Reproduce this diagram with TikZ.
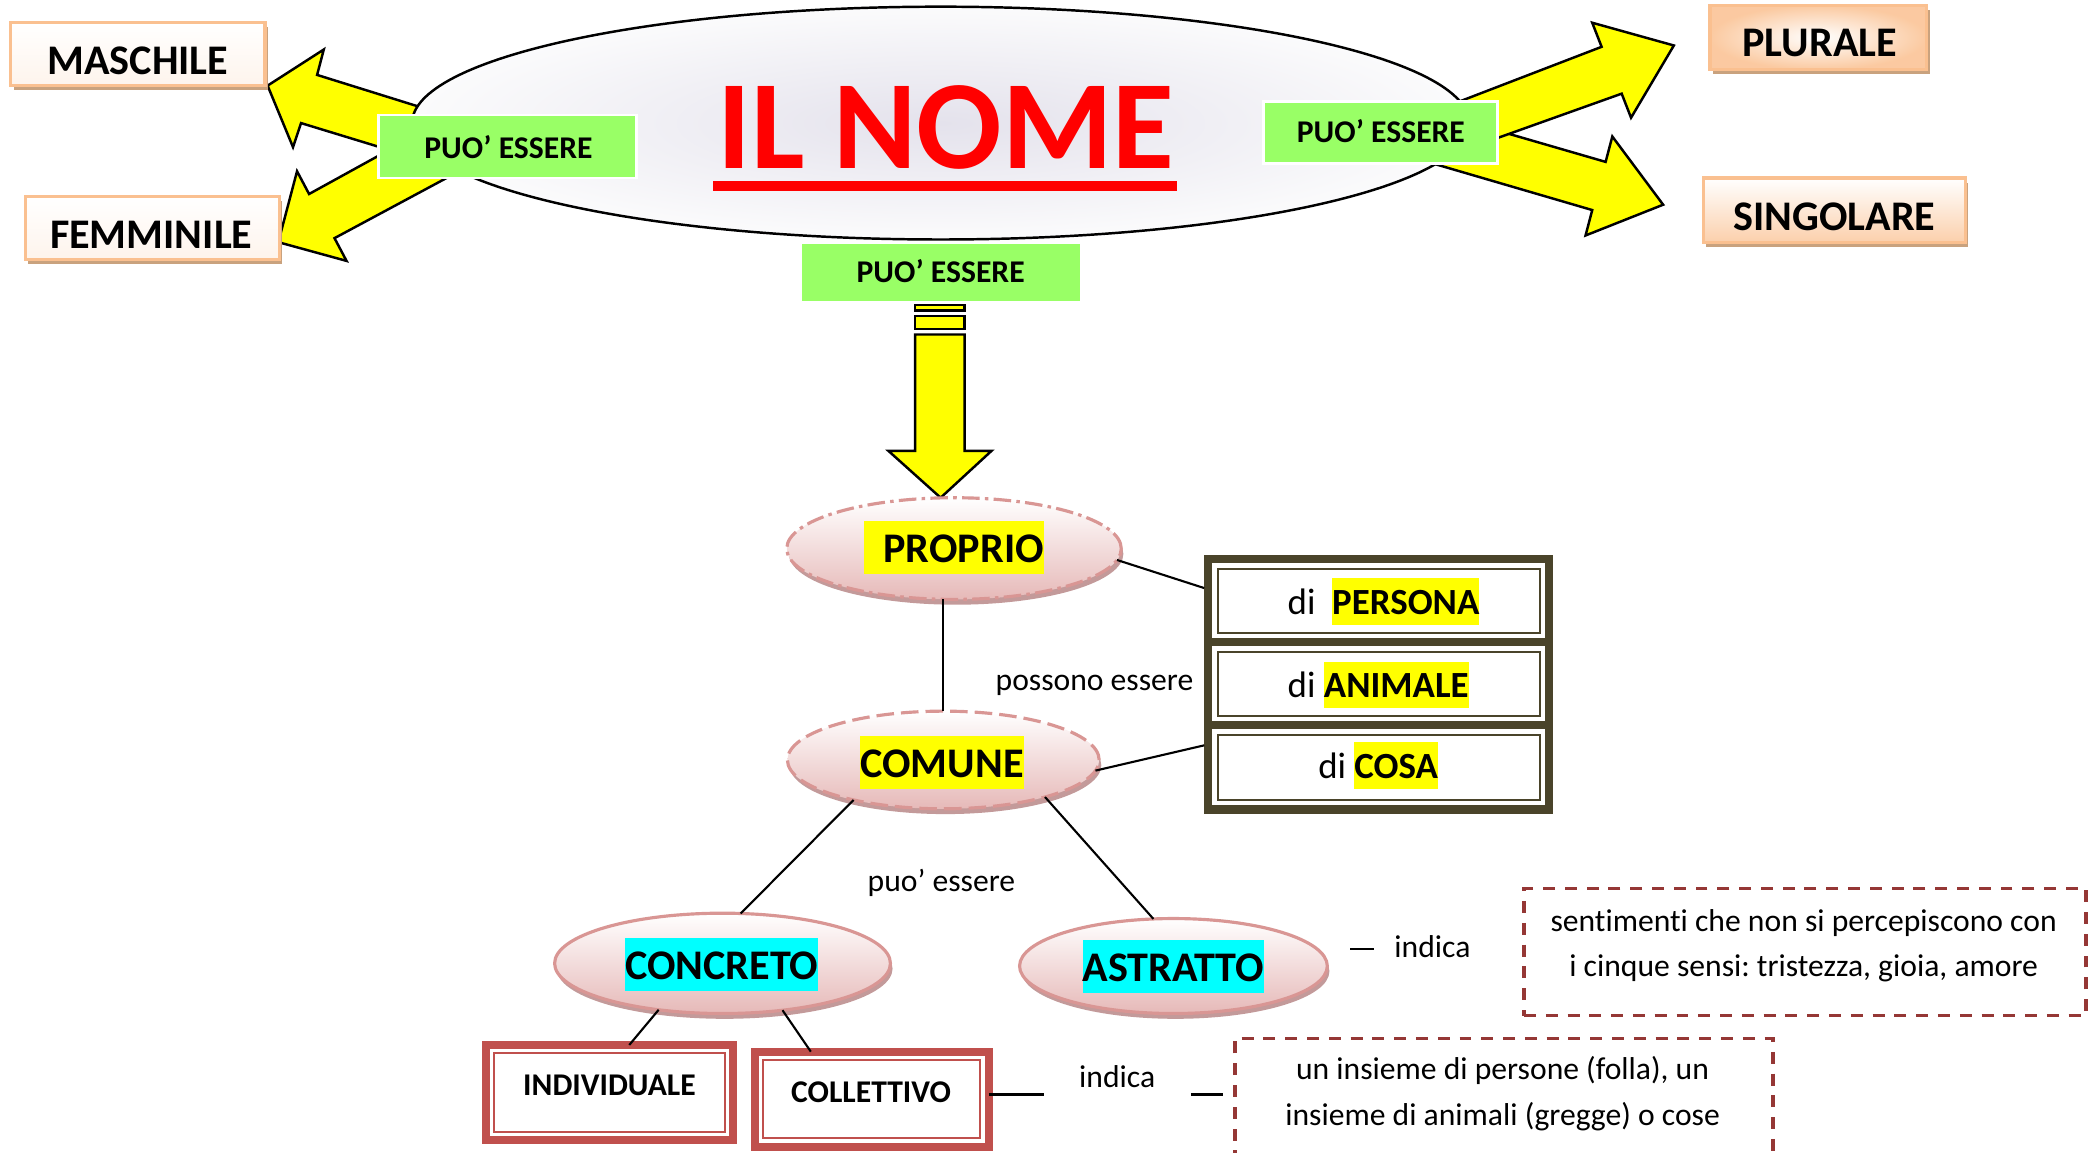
\documentclass[tikz,border=0pt]{standalone}
\usepackage{fontspec}
\setmainfont[Ligatures=NoCommon]{Carlito}
\usetikzlibrary{shapes.geometric,shadows,fit,calc}
\frenchspacing
\definecolor{peach}{HTML}{FAC090}
\definecolor{peachlight}{HTML}{FDE9D9}
\definecolor{tanshadow}{HTML}{C9A27E}
\definecolor{grn}{HTML}{99FF66}
\definecolor{pinkb}{HTML}{D99694}
\definecolor{pinkf}{HTML}{E6B9B8}
\definecolor{pinksh}{HTML}{C39A9A}
\definecolor{darkframe}{HTML}{4A442A}
\definecolor{redbox}{HTML}{C0504D}
\definecolor{dashred}{HTML}{953735}
\definecolor{lav}{HTML}{E4E2EC}
\definecolor{rimwhite}{HTML}{FBFBFC}
\definecolor{titlered}{HTML}{FF0000}
\definecolor{hlyellow}{HTML}{FFFF00}
\definecolor{hlcyan}{HTML}{00FFFF}
\newcommand{\myu}{0.01338cm}
\newcommand{\myhl}[2]{{\setlength{\fboxsep}{0pt}\colorbox{#1}{\rule[-0.28em]{0pt}{1.26em}#2}}}
\newcommand{\innerframe}[3]{\draw[#3] ([shift={(#2,-#2)}]#1.north west) rectangle ([shift={(-#2,#2)}]#1.south east);}
\tikzset{
  txt/.style={font=\fontsize{9}{11}\selectfont, inner sep=0},
  bb12/.style={font=\fontsize{12}{14}\selectfont\bfseries, inner sep=0},
  bb9/.style={font=\fontsize{9}{11}\selectfont\bfseries, inner sep=0},
  rowtxt/.style={font=\fontsize{10.5}{12}\selectfont, inner sep=0},
  titlefont/.style={font=\fontsize{36}{40}\selectfont\bfseries, text=titlered, inner sep=0},
  topbox/.style={inner sep=0, outer sep=0, draw=peach, line width=0.9pt,
    drop shadow={shadow xshift=0.8pt, shadow yshift=-1.3pt, fill=tanshadow, opacity=1}},
  greenbox/.style={inner sep=0, outer sep=0, fill=grn, draw=white, line width=0.8pt},
  blockarrow/.style={fill=hlyellow, draw=black, line width=0.7pt, line join=miter},
  bigell/.style={ellipse, inner sep=0, outer sep=0, draw=black, line width=0.7pt,
    inner color=lav, outer color=rimwhite},
  pinkell/.style={ellipse, inner sep=0, outer sep=0, top color=white, bottom color=pinkf,
    draw=pinkb, line width=0.9pt,
    drop shadow={shadow xshift=0.6pt, shadow yshift=-1.5pt, fill=pinksh, opacity=1}},
  conn/.style={draw=black, line width=0.6pt},
  dashedbox/.style={draw=dashred, line width=1pt, dash pattern=on 3.4pt off 2.8pt},
  redouter/.style={inner sep=0, outer sep=0, fill=white, draw=redbox, line width=2.3pt},
  rowbox/.style={inner sep=0, outer sep=0, fill=white},
  plain/.style={inner sep=0, outer sep=0}
}
\begin{document}
\begin{tikzpicture}[x=0.01338cm, y=-0.01338cm]
\useasboundingbox (0,0) rectangle (1568,861);

% block arrows from the central ellipse
\filldraw[blockarrow] (330,85) -- (237,56) -- (242,37) -- (200,64) -- (219,110) -- (225,92) -- (320,121) -- cycle;
\filldraw[blockarrow] (300,107) -- (231,145) -- (222,128) -- (208,181) -- (259,195) -- (250,178) -- (345,127) -- cycle;
\filldraw[blockarrow] (1100,92) -- (1200,121) -- (1205,102) -- (1243,153) -- (1185,176) -- (1190,157) -- (1060,119) -- cycle;
\filldraw[blockarrow] (1080,80) -- (1197,35) -- (1190,17) -- (1251,34) -- (1219,88) -- (1212,70) -- (1100,110) -- cycle;
\filldraw[blockarrow] (684,228) rectangle (721,232);
\filldraw[blockarrow] (684,236) rectangle (721,246);
\filldraw[blockarrow] (684,250) -- (684,337) -- (664,337) -- (703,372) -- (741,337) -- (721,337) -- (721,250) -- cycle;

% central ellipse and title
\node[bigell, minimum width=790*\myu, minimum height=174*\myu] (nome) at (703,92) {};
\node[titlefont, anchor=base] (title) at (707,126) {IL NOME};
\fill[titlered] (533,135) rectangle (880,143);

% green labels
\node[greenbox, fit={(283,86) (476,133)}] (g1) {};
\node[bb9] (g1-t) at (380,110) {PUO’ ESSERE};
\node[greenbox, fit={(944,76) (1119,122)}] (g2) {};
\node[bb9] (g2-t) at (1032,98) {PUO’ ESSERE};
\node[greenbox, fit={(598,181) (808,226)}] (g3) {};
\node[bb9] (g3-t) at (703,203) {PUO’ ESSERE};

% top boxes
\node[topbox, top color=white, bottom color=peachlight!50, fit={(8,17) (198,64)}] (masch) {};
\node[bb12, anchor=base] (masch-t) at (103,56) {MASCHILE};
\node[topbox, top color=white, bottom color=peachlight!50, fit={(19,147) (209,194)}] (femm) {};
\node[bb12, anchor=base] (femm-t) at (113,186) {FEMMINILE};
\node[topbox, inner color=white, outer color=peach!85, fit={(1278,4) (1440,52)}] (plur) {};
\node[bb12, anchor=base] (plur-t) at (1360,42.5) {PLURALE};
\node[topbox, top color=white, bottom color=peach!75, fit={(1273,133) (1469,181)}] (sing) {};
\node[bb12, anchor=base] (sing-t) at (1371,172) {SINGOLARE};

% framed list
\node[plain, fill=darkframe, fit={(900,415) (1161,608)}] (frame) {};
\node[rowbox, fit={(906,421) (1155,477)}] (persona) {};
\node[rowbox, fit={(906,483) (1155,539)}] (animale) {};
\node[rowbox, fit={(906,545) (1155,602)}] (cosa) {};
\innerframe{persona}{1.6pt}{darkframe, line width=.6pt}
\innerframe{animale}{1.6pt}{darkframe, line width=.6pt}
\innerframe{cosa}{1.6pt}{darkframe, line width=.6pt}
\node[rowtxt] (persona-t) at (1034,449.5) {di\ \ \myhl{hlyellow}{\bfseries PERSONA}};
\node[rowtxt] (animale-t) at (1030,512) {di \myhl{hlyellow}{\bfseries ANIMALE}};
\node[rowtxt] (cosa-t) at (1030,572) {di \myhl{hlyellow}{\bfseries COSA}};

% pink ellipses
\node[pinkell, dash pattern=on 5pt off 1.5pt on 1pt off 1.5pt, minimum width=250*\myu, minimum height=76*\myu] (proprio) at (713,410) {};
\node[pinkell, dash pattern=on 5pt off 2pt, minimum width=233*\myu, minimum height=73*\myu] (comune) at (705,568) {};
\node[pinkell, minimum width=251*\myu, minimum height=75*\myu] (concreto) at (540,720) {};
\node[pinkell, minimum width=230*\myu, minimum height=71*\myu] (astratto) at (877,722) {};
\node[bb12] (proprio-t) at (713,409.5) {\myhl{hlyellow}{\hspace{5.5pt}PROPRIO}};
\node[bb12] (comune-t) at (704,570) {\myhl{hlyellow}{COMUNE}};
\node[bb12] (concreto-t) at (539.5,721) {\myhl{hlcyan}{CONCRETO}};
\node[bb12] (astratto-t) at (877,722.5) {\myhl{hlcyan}{ASTRATTO}};

% red boxes
\node[redouter, fit={(363,781) (548,852)}] (indiv) {};
\innerframe{indiv}{2.4pt}{redbox, line width=.55pt}
\node[redouter, fit={(564,786) (739,857)}] (coll) {};
\innerframe{coll}{2.4pt}{redbox, line width=.55pt}
\node[bb9, anchor=base] (indiv-t) at (455.5,818.4) {INDIVIDUALE};
\node[bb9, anchor=base] (coll-t) at (651,824) {COLLETTIVO};

% connectors
\coordinate (pin1) at ($(frame.north west)!0.127!(frame.south west)$);
\coordinate (pin2) at ($(frame.north west)!0.736!(frame.south west)$);
\draw[conn] (proprio.-4) -- (pin1);
\draw[conn] (proprio.south -| comune.north) -- (comune.north);
\draw[conn] (comune.-4) -- (pin2);
\draw[conn] (comune.-156.7) -- (concreto.70.5);
\draw[conn] (comune.-20.4) -- (astratto.113.7);
\draw[conn] (concreto.-144.2) -- ($(indiv.north west)!0.58!(indiv.north east)$);
\draw[conn] (concreto.-38) -- ($(coll.north west)!0.24!(coll.north east)$);

% labels
\node[txt, anchor=base] (lab1) at (818,515.7) {possono essere};
\node[txt, anchor=base] (lab2) at (703.6,666.4) {puo’ essere};
\node[txt, anchor=base] (lab3) at (1070.6,715.5) {indica};
\node[txt, anchor=base] (lab4) at (835,813) {indica};
\coordinate (a1) at (1009,709);
\coordinate (a2) at (1027,709);
\draw[conn] (a1) -- (a2);
\coordinate (c1) at (780,818);
\draw[conn] (coll.east |- c1) -- (c1);
\coordinate (c2) at (890,818);
\coordinate (c3) at (914,818);
\draw[conn] (c2) -- (c3);

% dashed boxes
\node[dashedbox, inner sep=0, outer sep=0, fit={(1139,664) (1559,759)}] (box1) {};
\node[txt, anchor=base] (box1-a) at (1348,696) {sentimenti che non si percepiscono con};
\node[txt, anchor=base] (box1-b) at (1348,729.5) {i cinque sensi: tristezza, gioia, amore};
\node[plain, fit={(923,776) (1325,885)}] (box2) {};
\draw[dashedbox] (box2.south west) -- (box2.north west) -- (box2.north east) -- (box2.south east);
\node[txt, anchor=base] (box2-a) at (1123,807) {un insieme di persone (folla), un};
\node[txt, anchor=base] (box2-b) at (1123,841) {insieme di animali (gregge) o cose};
\end{tikzpicture}
\end{document}
